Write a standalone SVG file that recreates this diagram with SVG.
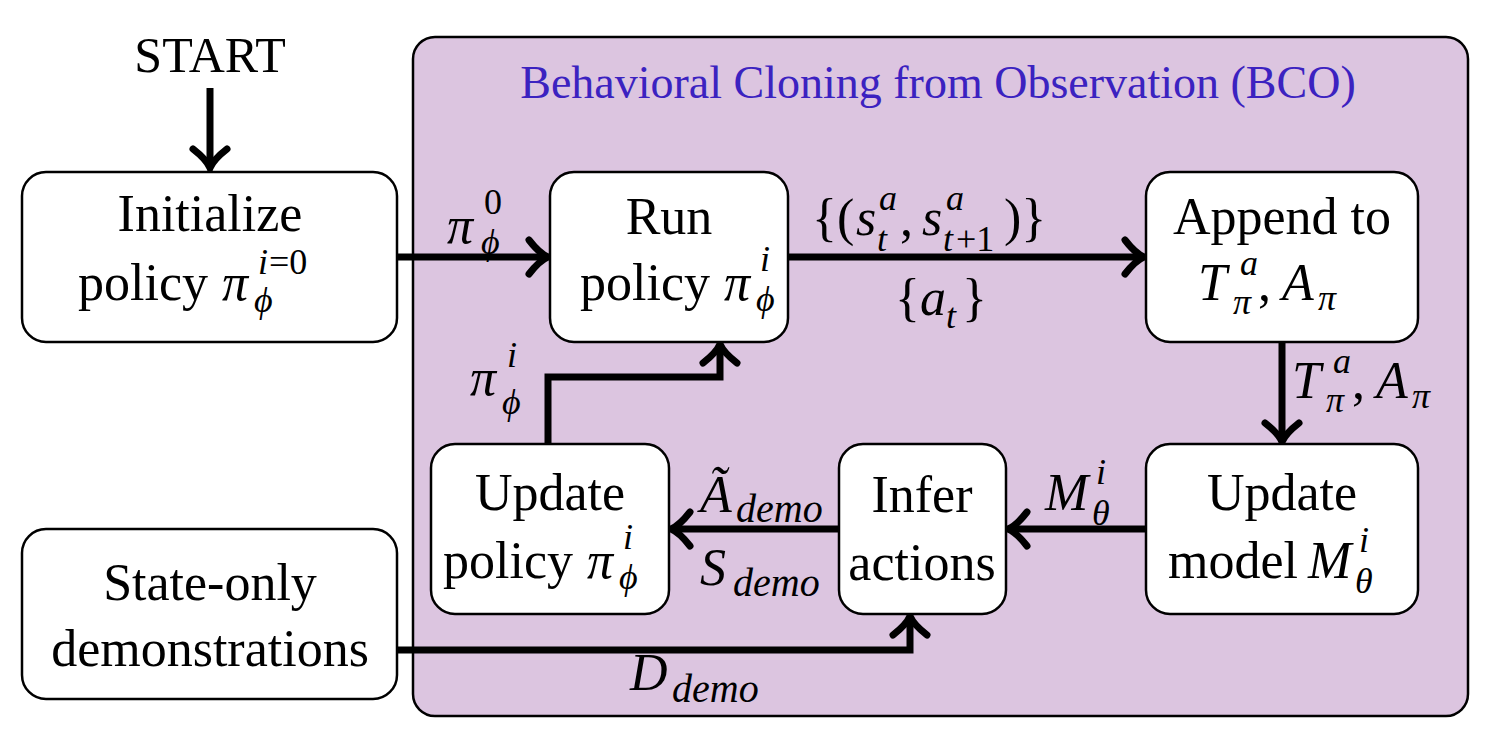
<svg xmlns="http://www.w3.org/2000/svg" width="1492" height="740" viewBox="0 0 1492 740">
<style>
.box{fill:#fff;stroke:#000;stroke-width:2.5}
.t,.m,.u,.s,.su,.ttl{font-family:"Liberation Serif","Times New Roman",Times,"Nimbus Roman","DejaVu Serif",serif;fill:#000}
.t,.m,.u{font-size:52px}
.m,.s{font-style:italic}
.s,.su{font-size:36px}
.d{font-size:40px}
.ttl{font-size:46px;fill:#3b22c0}
.c{text-anchor:middle}
.ln{fill:none;stroke:#000;stroke-width:7;stroke-linejoin:miter}
</style>
<defs>
<marker id="ah" markerUnits="userSpaceOnUse" viewBox="-26 -22 30 44" markerWidth="30" markerHeight="44" refX="0" refY="0" orient="auto">
<path d="M -19,-17 C -12,-8 -5,-2 0,0 C -5,2 -12,8 -19,17" fill="none" stroke="#000" stroke-width="7" stroke-linecap="round"/>
</marker>
</defs>

<g id="bco">
<rect x="413" y="37" width="1055" height="679" rx="22" fill="#dcc5e0" stroke="#000" stroke-width="2.5"/>
<text x="938" y="98" class="ttl c">Behavioral Cloning from Observation (BCO)</text>
</g>

<g id="start">
<text x="210" y="72" class="t c" style="font-size:50px">START</text>
</g>

<g id="connectors">
<path class="ln" d="M 210,88 V 168" marker-end="url(#ah)"/>
<path class="ln" d="M 397,257 H 548" marker-end="url(#ah)"/>
<path class="ln" d="M 788,257 H 1144" marker-end="url(#ah)"/>
<path class="ln" d="M 1282,342 V 442" marker-end="url(#ah)"/>
<path class="ln" d="M 1146,529 H 1008" marker-end="url(#ah)"/>
<path class="ln" d="M 839,529 H 671" marker-end="url(#ah)"/>
<path class="ln" d="M 548,444 V 377 H 720 V 344" marker-end="url(#ah)"/>
<path class="ln" d="M 397,650 H 910 V 616" marker-end="url(#ah)"/>
</g>

<g id="labels">
<text x="447" y="243" class="m">π</text>
<text x="484" y="214" class="su">0</text>
<text x="481" y="254" class="s">ϕ</text>

<text x="812" y="235" class="u">{(</text>
<text x="856" y="235" class="m">s</text>
<text x="879" y="210" class="s">a</text>
<text x="877" y="251" class="s">t</text>
<text x="900" y="235" class="u">,</text>
<text x="922" y="235" class="m">s</text>
<text x="946" y="210" class="s">a</text>
<text x="943" y="251" class="s">t</text><text x="956" y="251" class="su">+1</text>
<text x="1004" y="235" class="u">)}</text>

<text x="895" y="315" class="u">{</text>
<text x="920" y="315" class="m">a</text>
<text x="946" y="328" class="s">t</text>
<text x="962" y="315" class="u">}</text>

<text x="1292" y="398" class="m">T</text>
<text x="1333" y="373" class="s">a</text>
<text x="1326" y="412" class="s">π</text>
<text x="1352" y="398" class="u">,</text>
<text x="1376" y="398" class="m">A</text>
<text x="1412" y="408" class="s">π</text>

<text x="1045" y="510" class="m">M</text>
<text x="1096" y="484" class="s">i</text>
<text x="1092" y="525" class="s">θ</text>

<text x="700" y="512" class="m">Ã</text>
<text x="736" y="522" class="s d">demo</text>

<text x="700" y="585" class="m">S</text>
<text x="733" y="596" class="s d">demo</text>

<text x="630" y="690" class="m">D</text>
<text x="672" y="702" class="s d">demo</text>

<text x="470" y="395" class="m">π</text>
<text x="507" y="367" class="s">i</text>
<text x="502" y="414" class="s">ϕ</text>
</g>

<g id="init">
<rect class="box" x="22" y="172" width="375" height="170" rx="24"/>
<text x="210" y="231" class="t c">Initialize</text>
<text x="78" y="300" class="t">policy</text>
<text x="222" y="300" class="m">π</text>
<text x="258" y="274" class="s">i</text><text x="269" y="274" class="su">=0</text>
<text x="254" y="312" class="s">ϕ</text>
</g>

<g id="run">
<rect class="box" x="550" y="172" width="238" height="170" rx="24"/>
<text x="669" y="234" class="t c">Run</text>
<text x="580" y="300" class="t">policy</text>
<text x="724" y="300" class="m">π</text>
<text x="760" y="271" class="s">i</text>
<text x="756" y="311" class="s">ϕ</text>
</g>

<g id="append">
<rect class="box" x="1146" y="172" width="272" height="170" rx="24"/>
<text x="1282" y="234" class="t c">Append to</text>
<text x="1198" y="300" class="m">T</text>
<text x="1240" y="275" class="s">a</text>
<text x="1233" y="314" class="s">π</text>
<text x="1258" y="300" class="u">,</text>
<text x="1282" y="300" class="m">A</text>
<text x="1318" y="310" class="s">π</text>
</g>

<g id="update-model">
<rect class="box" x="1146" y="444" width="272" height="170" rx="24"/>
<text x="1282" y="510" class="t c">Update</text>
<text x="1168" y="578" class="t">model</text>
<text x="1308" y="578" class="m">M</text>
<text x="1359" y="552" class="s">i</text>
<text x="1355" y="593" class="s">θ</text>
</g>

<g id="infer">
<rect class="box" x="839" y="444" width="167" height="170" rx="24"/>
<text x="922" y="512" class="t c">Infer</text>
<text x="922" y="580" class="t c">actions</text>
</g>

<g id="update-policy">
<rect class="box" x="431" y="444" width="238" height="170" rx="24"/>
<text x="550" y="510" class="t c">Update</text>
<text x="443" y="578" class="t">policy</text>
<text x="587" y="578" class="m">π</text>
<text x="623" y="549" class="s">i</text>
<text x="619" y="589" class="s">ϕ</text>
</g>

<g id="state-only">
<rect class="box" x="22" y="529" width="375" height="170" rx="24"/>
<text x="210" y="600" class="t c">State-only</text>
<text x="210" y="666" class="t c">demonstrations</text>
</g>
</svg>
